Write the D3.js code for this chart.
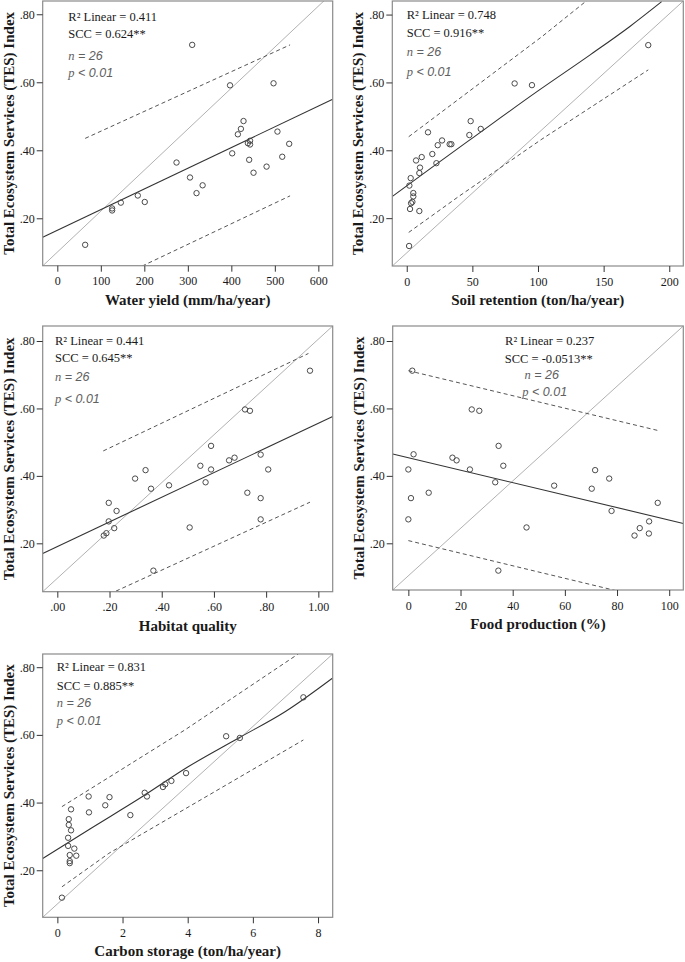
<!DOCTYPE html>
<html>
<head>
<meta charset="utf-8">
<script src="https://cdn.jsdelivr.net/npm/d3@7"></script>
<style>
  body { margin: 0; background: #fff; }
  svg { display: block; }
</style>
</head>
<body>
<div id="chart"></div>
<script>
(function () {
'use strict';
// TES index vs. five ecosystem services — five SPSS-style scatter panels
// Values (n = 26 in every panel)

// --- Water yield ---
const waterYield = [64, 310, 397, 497, 126, 126, 146, 185, 201, 274, 305, 320, 334, 402, 415, 422, 428, 438, 443, 443, 441, 451, 481, 506, 517, 533];
const tesWater   = [0.122, 0.710, 0.591, 0.597, 0.229, 0.223, 0.246, 0.267, 0.248, 0.364, 0.320, 0.274, 0.297, 0.391, 0.447, 0.463, 0.486, 0.421, 0.428, 0.417, 0.372, 0.334, 0.352, 0.455, 0.381, 0.419];
const fitWater   = [[-33.6, 0.144], [633, 0.550]];
const upWater    = [[64, 0.435], [535, 0.710]];
const loWater    = [[64, -0.02], [535, 0.266]];
const diagWater  = [[-33.6, 0.06], [615, 0.842]];

// --- Soil retention ---
const soilRetention = [1.8, 2.0, 3.0, 2.5, 3.3, 4.3, 5.0, 5.0, 9.6, 7.1, 9.6, 10.1, 11.4, 16.2, 19.5, 22.6, 23.6, 26.9, 32.7, 34.0, 47.7, 48.7, 56.4, 82.2, 95.4, 184];
const tesSoil       = [0.118, 0.296, 0.318, 0.227, 0.244, 0.248, 0.264, 0.274, 0.221, 0.370, 0.333, 0.349, 0.380, 0.453, 0.389, 0.362, 0.415, 0.429, 0.418, 0.418, 0.445, 0.486, 0.463, 0.597, 0.592, 0.710];
const fitSoil       = [[-11, 0.264], [20, 0.352], [50, 0.436], [100, 0.575], [140, 0.682], [170, 0.765], [194.2, 0.838]];
const upSoil        = [[1.5, 0.440], [103, 0.735], [140, 0.850]];
const loSoil        = [[1.5, 0.158], [39.6, 0.264], [103, 0.433], [184, 0.637]];
const diagSoil      = [[-11, 0.059], [210.7, 0.840]];

// --- Habitat quality ---
const habitat    = [0.368, 0.968, 0.719, 0.738, 0.197, 0.197, 0.178, 0.188, 0.218, 0.227, 0.298, 0.338, 0.359, 0.428, 0.507, 0.548, 0.568, 0.589, 0.589, 0.658, 0.679, 0.728, 0.779, 0.779, 0.779, 0.808];
const tesHabitat = [0.119, 0.712, 0.597, 0.593, 0.320, 0.265, 0.223, 0.230, 0.245, 0.296, 0.392, 0.417, 0.362, 0.372, 0.247, 0.430, 0.381, 0.489, 0.419, 0.446, 0.454, 0.350, 0.463, 0.334, 0.271, 0.419];
const fitHabitat = [[-0.056, 0.170], [1.055, 0.576]];
const upHabitat  = [[0.176, 0.474], [0.962, 0.763]];
const loHabitat  = [[0.176, 0.041], [0.968, 0.322]];
const diagHabitat = [[-0.056, 0.0565], [1.055, 0.8445]];

// --- Food production ---
const food    = [1.5, 0, 0, 1.0, 2.0, 7.8, 16.9, 18.5, 23.6, 24.3, 27.2, 33.3, 34.6, 34.5, 36.4, 45.3, 55.9, 70.3, 71.6, 77.0, 77.9, 86.7, 88.7, 92.3, 92.2, 95.6];
const tesFood = [0.712, 0.419, 0.271, 0.334, 0.464, 0.350, 0.454, 0.446, 0.419, 0.597, 0.593, 0.381, 0.489, 0.119, 0.430, 0.247, 0.371, 0.362, 0.417, 0.392, 0.296, 0.223, 0.245, 0.265, 0.229, 0.320];
const fitFood  = [[-6, 0.465], [105.4, 0.259]];
const upFood   = [[0, 0.712], [96, 0.534]];
const loFood   = [[0, 0.208], [78.3, 0.062], [90, 0.040]];
const diagFood = [[-6, 0.0615], [105.4, 0.8445]];

// --- Carbon storage ---
const carbon    = [0.14, 3.95, 3.50, 3.31, 3.24, 2.68, 2.75, 2.24, 1.60, 1.47, 0.96, 0.97, 0.42, 0.35, 0.35, 0.42, 0.33, 0.33, 0.52, 0.38, 0.58, 0.38, 0.38, 7.55, 5.18, 5.60];
const tesCarbon = [0.119, 0.487, 0.464, 0.454, 0.446, 0.429, 0.418, 0.363, 0.416, 0.392, 0.418, 0.371, 0.380, 0.351, 0.334, 0.318, 0.296, 0.272, 0.264, 0.245, 0.243, 0.227, 0.221, 0.711, 0.596, 0.591];
const fitCarbon = [[-0.45, 0.235], [1, 0.322], [2.6, 0.417], [4, 0.505], [5.55, 0.590], [7, 0.669], [8.45, 0.768]];
const upCarbon  = [[0.14, 0.388], [3.92, 0.615], [7.39, 0.839]];
const loCarbon  = [[0.14, 0.151], [1.58, 0.250], [4.13, 0.393], [7.55, 0.585]];
const diagCarbon = [[-0.45, 0.061], [8.45, 0.839]];

// tick labels
const tesTicks     = [0.2, 0.4, 0.6, 0.8];
const waterTicks   = [0, 100, 200, 300, 400, 500, 600];
const soilTicks    = [0, 50, 100, 150, 200];
const habitatTicks = [0, 0.2, 0.4, 0.6, 0.8, 1.0];
const foodTicks    = [0, 20, 40, 60, 80, 100];
const carbonTicks  = [0, 2, 4, 6, 8];

const r2Values  = ["0.411", "0.748", "0.441", "0.237", "0.831"];
const sccValues = ["0.624**", "0.916**", "0.645**", "-0.0513**", "0.885**"];
const nValue = 26;
const pText  = "< 0.01";

const yTitle = "Total Ecosystem Services (TES) Index";

// colours
const FRAME_COLOR = "#8a8a8a";
const TICK_COLOR  = "#333";
const TEXT_COLOR  = "#1a1a1a";
const NOTE_COLOR  = "#606060";
const POINT_COLOR = "#4a4a4a";
const FIT_COLOR   = "#333";
const BAND_COLOR  = "#555";
const DIAG_COLOR  = "#a8a8a8";
const SERIF = "'Liberation Serif', 'Times New Roman', serif";
const SANS  = "'Liberation Sans', Arial, sans-serif";

const fmtDot = d => d3.format(".2f")(d).replace(/^0\./, ".");

// layout (pixel boxes of each frame and where the stats block sits)
const panels = [
  { id: "water", box: {l: 42.7, r: 332.7, t: 1, b: 265.7}, xDomain: [-33.6, 633], yDomain: [0.0606, 0.839],
    x: waterYield, y: tesWater, fit: fitWater, up: upWater, lo: loWater, diag: diagWater,
    ticks: waterTicks, fmt: d3.format("d"), xTitle: "Water yield (mm/ha/year)",
    stats: {dx: 25.6, anchor: "start", lines: [17.3, 34, 55.7, 73]} },
  { id: "soil", box: {l: 392.3, r: 683.3, t: 1, b: 266}, xDomain: [-11, 210.7], yDomain: [0.059, 0.840],
    x: soilRetention, y: tesSoil, fit: fitSoil, up: upSoil, lo: loSoil, diag: diagSoil,
    ticks: soilTicks, fmt: d3.format("d"), xTitle: "Soil retention (ton/ha/year)",
    stats: {dx: 14.4, anchor: "start", lines: [15, 33.3, 51.7, 71.7]} },
  { id: "habitat", box: {l: 42.7, r: 332.7, t: 326, b: 591.7}, xDomain: [-0.056, 1.055], yDomain: [0.0565, 0.8445],
    x: habitat, y: tesHabitat, fit: fitHabitat, up: upHabitat, lo: loHabitat, diag: diagHabitat,
    ticks: habitatTicks, fmt: fmtDot, xTitle: "Habitat quality",
    stats: {dx: 12.3, anchor: "start", lines: [15.7, 33.3, 52.3, 74]} },
  { id: "food", box: {l: 392.7, r: 683.3, t: 326, b: 590}, xDomain: [-6, 105.4], yDomain: [0.0615, 0.8445],
    x: food, y: tesFood, fit: fitFood, up: upFood, lo: loFood, diag: diagFood,
    ticks: foodTicks, fmt: d3.format("d"), xTitle: "Food production (%)",
    stats: {dx: 156, anchor: "middle", lines: [15.7, 34, 50, 67.3], shift: [1, 0, -7, -4]} },
  { id: "carbon", box: {l: 42.7, r: 332.7, t: 654, b: 917.3}, xDomain: [-0.45, 8.45], yDomain: [0.061, 0.839],
    x: carbon, y: tesCarbon, fit: fitCarbon, up: upCarbon, lo: loCarbon, diag: diagCarbon,
    ticks: carbonTicks, fmt: d3.format("d"), xTitle: "Carbon storage (ton/ha/year)",
    stats: {dx: 14, anchor: "start", lines: [14.3, 32.7, 50, 67.7]} }
];

const svg = d3.select("#chart").append("svg")
  .attr("width", 685).attr("height", 962)
  .attr("viewBox", "0 0 685 962");

const defs = svg.append("defs");

function drawPanel(p, i) {
  const b = p.box;
  const x = d3.scaleLinear().domain(p.xDomain).range([b.l, b.r]);
  const y = d3.scaleLinear().domain(p.yDomain).range([b.b, b.t]);
  const g = svg.append("g").attr("class", "panel-" + p.id);

  defs.append("clipPath").attr("id", "clip-" + p.id)
    .append("rect")
    .attr("x", b.l).attr("y", b.t)
    .attr("width", b.r - b.l).attr("height", b.b - b.t);

  const plot = g.append("g").attr("clip-path", `url(#clip-${p.id})`);
  const line = d3.line().x(d => x(d[0])).y(d => y(d[1]));

  // reference diagonal (thin, light)
  plot.append("path").datum(p.diag)
    .attr("d", line).attr("fill", "none")
    .attr("stroke", DIAG_COLOR).attr("stroke-width", 0.9);

  // prediction band edges
  [p.up, p.lo].forEach(band => {
    plot.append("path").datum(band)
      .attr("d", line).attr("fill", "none")
      .attr("stroke", BAND_COLOR).attr("stroke-width", 1)
      .attr("stroke-dasharray", "4 3");
  });

  // fit line
  plot.append("path").datum(p.fit)
    .attr("d", d3.line().curve(d3.curveMonotoneX).x(d => x(d[0])).y(d => y(d[1])))
    .attr("fill", "none")
    .attr("stroke", FIT_COLOR).attr("stroke-width", 1.1);

  // points
  plot.selectAll("circle").data(d3.zip(p.x, p.y)).join("circle")
    .attr("cx", d => x(d[0]))
    .attr("cy", d => y(d[1]))
    .attr("r", 2.7)
    .attr("fill", "none")
    .attr("stroke", POINT_COLOR)
    .attr("stroke-width", 1);

  // frame
  g.append("rect")
    .attr("x", b.l).attr("y", b.t)
    .attr("width", b.r - b.l).attr("height", b.b - b.t)
    .attr("fill", "none").attr("stroke", FRAME_COLOR).attr("stroke-width", 1.2);

  // y axis
  const yAxisG = g.append("g").attr("transform", `translate(${b.l},0)`)
    .call(d3.axisLeft(y).tickValues(tesTicks).tickFormat(fmtDot).tickSize(6).tickPadding(2));
  // x axis
  const xAxisG = g.append("g").attr("transform", `translate(0,${b.b})`)
    .call(d3.axisBottom(x).tickValues(p.ticks).tickFormat(p.fmt).tickSize(6).tickPadding(5));

  [yAxisG, xAxisG].forEach(a => {
    a.select(".domain").remove();
    a.selectAll("line").attr("stroke", TICK_COLOR);
    a.selectAll("text")
      .attr("fill", TEXT_COLOR)
      .style("font-family", SERIF)
      .style("font-size", "12px");
  });

  // axis titles
  g.append("text")
    .attr("x", (b.l + b.r) / 2)
    .attr("y", b.b + 35.5)
    .attr("text-anchor", "middle")
    .attr("dominant-baseline", "middle")
    .attr("fill", TEXT_COLOR)
    .style("font-family", SERIF).style("font-weight", "bold").style("font-size", "15px")
    .text(p.xTitle);

  g.append("text")
    .attr("transform", `translate(${b.l - 32.6},${(b.t + b.b) / 2}) rotate(-90)`)
    .attr("text-anchor", "middle")
    .attr("dominant-baseline", "middle")
    .attr("fill", TEXT_COLOR)
    .style("font-family", SERIF).style("font-weight", "bold").style("font-size", "15px")
    .text(yTitle);

  // stats block
  const s = p.stats;
  const shift = s.shift || [0, 0, 0, 0];
  const sx = k => b.l + s.dx + shift[k];
  const sy = k => b.t + s.lines[k];
  const txt = (k) => g.append("text")
    .attr("x", sx(k)).attr("y", sy(k))
    .attr("text-anchor", s.anchor)
    .attr("dominant-baseline", "middle")
    .style("font-size", "12.5px");

  txt(0).attr("fill", TEXT_COLOR).style("font-family", SERIF)
    .text(`R² Linear = ${r2Values[i]}`);
  txt(1).attr("fill", TEXT_COLOR).style("font-family", SERIF)
    .text(`SCC = ${sccValues[i]}`);

  const nT = txt(2).attr("fill", NOTE_COLOR).style("font-style", "italic");
  nT.append("tspan").style("font-family", SERIF).text("n");
  nT.append("tspan").style("font-family", SANS).style("font-size", "12.5px").text(` = ${nValue}`);

  const pT = txt(3).attr("fill", NOTE_COLOR).style("font-style", "italic");
  pT.append("tspan").style("font-family", SERIF).text("p");
  pT.append("tspan").style("font-family", SANS).style("font-size", "12.5px").text(` ${pText}`);
}

panels.forEach(drawPanel);
})();
</script>
</body>
</html>
